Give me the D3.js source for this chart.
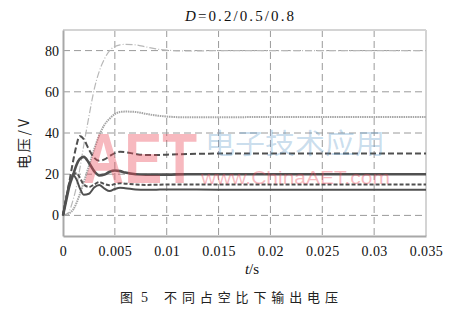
<!DOCTYPE html>
<html><head><meta charset="utf-8">
<script src="https://cdn.jsdelivr.net/npm/d3@7"></script>
<style>
html,body{margin:0;padding:0;background:#fff;}
svg{display:block;}
</style></head>
<body>
<svg id="chart" width="458" height="311"></svg>
<script>
// ---- data ----
const timeS = [0, 0.0003, 0.0006, 0.001, 0.0013, 0.0016, 0.002, 0.0025, 0.003, 0.0035, 0.004, 0.0045, 0.005, 0.0055, 0.006, 0.007, 0.008, 0.009, 0.01, 0.012, 0.015, 0.02, 0.025, 0.03, 0.035];
const v80 = [0, 0.5, 2, 8, 14, 22, 34, 48, 61, 70, 76, 80, 82, 82.8, 83, 82.8, 81.8, 80.8, 80.2, 79.8, 80, 80, 80, 80, 80];
const v48 = [0, 0.3, 1, 3, 6, 10, 16, 24, 32, 39, 44, 47, 49.2, 50.2, 50.4, 50.2, 49.3, 48.5, 48, 47.6, 47.6, 47.8, 47.8, 47.8, 47.8];
const v30 = [0, 8, 16, 27, 34, 38.5, 37, 32, 28, 26.5, 27.2, 28.8, 30.2, 30.9, 30.7, 29.8, 29.3, 29.3, 29.5, 29.8, 30, 30, 30, 30, 30];
const v20 = [0, 7, 14, 20, 24.5, 27.3, 28.4, 25.5, 21.5, 19.4, 19.8, 21.2, 21.8, 21.5, 20.8, 20, 19.8, 19.8, 19.8, 20, 20, 20, 20, 20, 20];
const v15 = [0, 8, 15, 20, 20.5, 18.5, 15, 13.8, 15, 16.2, 15.2, 14.6, 15.2, 15.6, 15.4, 15, 14.8, 14.9, 15, 15, 15, 15, 15, 15, 15];
const v12 = [0, 8, 15.5, 19.5, 17.5, 13.5, 10, 10.5, 13.5, 14.8, 13, 11.8, 12.8, 13.4, 13.2, 12.6, 12.4, 12.5, 12.6, 12.6, 12.5, 12.5, 12.5, 12.5, 12.5];
const xTicks = [0, 0.005, 0.01, 0.015, 0.02, 0.025, 0.03, 0.035];
const xTickLabels = ["0", "0.005", "0.01", "0.015", "0.02", "0.025", "0.03", "0.035"];
const yTicks = [0, 20, 40, 60, 80];
const titleMain = "=0.2/0.5/0.8";
const titleVar = "D";
const yLabel = "电压/V";
const caption = ["图", "5", "不同占空比下输出电压"];

// ---- layout ----
const svg = d3.select("#chart");
const L = 63, R = 426, T = 30, B = 236;
const x = d3.scaleLinear().domain([0, 0.035]).range([L, R]);
const y = d3.scaleLinear().domain([-10, 90]).range([B, T]);
const serif = "'Liberation Serif', 'Times New Roman', serif";
const cjk = "'Noto Sans CJK SC', sans-serif";

// grid
const g = svg.append("g");
g.selectAll("line.hg").data(yTicks).join("line")
  .attr("x1", L).attr("x2", R).attr("y1", d => y(d)).attr("y2", d => y(d))
  .attr("stroke", "#9a9a9a").attr("stroke-width", 1).attr("stroke-dasharray", "7,4");
g.selectAll("line.vg").data(xTicks.slice(1, -1)).join("line")
  .attr("x1", d => x(d)).attr("x2", d => x(d)).attr("y1", T).attr("y2", B)
  .attr("stroke", "#9a9a9a").attr("stroke-width", 1).attr("stroke-dasharray", "7,4");

// frame
svg.append("line").attr("x1", L).attr("x2", R).attr("y1", T).attr("y2", T).attr("stroke", "#d4d4d4").attr("stroke-width", 2);
svg.append("line").attr("x1", R).attr("x2", R).attr("y1", T).attr("y2", B).attr("stroke", "#d4d4d4").attr("stroke-width", 2);

// axes
const xAxis = d3.axisBottom(x).tickValues(xTicks).tickFormat((d, i) => xTickLabels[i]).tickSize(0).tickPadding(10);
const yAxis = d3.axisLeft(y).tickValues(yTicks).tickSize(0).tickPadding(4);
const gx = svg.append("g").attr("transform", `translate(0,${B})`).call(xAxis);
const gy = svg.append("g").attr("transform", `translate(${L},0)`).call(yAxis);
[gx, gy].forEach(a => {
  a.select(".domain").attr("stroke", "#a8a8a8").attr("stroke-width", 2);
  a.selectAll("text").attr("font-family", serif).attr("font-size", 14).attr("fill", "#111");
});
gx.selectAll("text").attr("letter-spacing", 0.4);

// series
const line = d3.line().x((d, i) => x(timeS[i])).y(d => y(d)).curve(d3.curveMonotoneX);
const series = [
  {v: v80, color: "#b8b8b8", w: 1.2, dash: "7,2,1,2"},
  {v: v48, color: "#a6a6a6", w: 2, dash: "1.5,0.8"},
  {v: v30, color: "#505050", w: 2, dash: "6,3"},
  {v: v20, color: "#505050", w: 2.6, dash: null},
  {v: v15, color: "#505050", w: 2, dash: "4,2"},
  {v: v12, color: "#505050", w: 2, dash: null}
];
svg.append("g").selectAll("path").data(series).join("path")
  .attr("d", d => line(d.v))
  .attr("fill", "none").attr("stroke", d => d.color).attr("stroke-width", d => d.w)
  .attr("stroke-dasharray", d => d.dash);

// watermark
const wm = svg.append("g").attr("pointer-events", "none");
wm.append("text").attr("transform", "translate(83,183) scale(1,1.22)")
  .attr("font-family", "'Liberation Sans', Arial, sans-serif")
  .attr("font-size", 57).attr("font-weight", 700)
  .attr("fill", "#eb4656").attr("fill-opacity", 0.38).text("AET");
wm.append("text").attr("x", 205).attr("y", 154).attr("font-family", cjk).attr("font-weight", 400)
  .attr("font-size", 28).attr("textLength", 180).attr("lengthAdjust", "spacingAndGlyphs")
  .attr("fill", "#5b97c8").attr("fill-opacity", 0.32).text("电子技术应用");
wm.append("text").attr("x", 201).attr("y", 184).attr("font-family", "'Liberation Sans', Arial, sans-serif")
  .attr("font-size", 19).attr("textLength", 189).attr("lengthAdjust", "spacingAndGlyphs")
  .attr("fill", "#eb4656").attr("fill-opacity", 0.38).text("www.ChinaAET.com");

// title
const tt = svg.append("text").attr("x", 185).attr("y", 21).attr("font-family", serif).attr("font-size", 15)
  .attr("fill", "#111").attr("textLength", 109).attr("lengthAdjust", "spacing");
tt.append("tspan").attr("font-style", "italic").text(titleVar);
tt.append("tspan").text(titleMain);

// y label
svg.append("text").attr("transform", "translate(29,144) rotate(-90)").attr("text-anchor", "middle")
  .attr("font-family", cjk).attr("font-size", 14).attr("fill", "#222")
  .attr("textLength", 50).attr("lengthAdjust", "spacing").text(yLabel);

// x label
const xl = svg.append("text").attr("x", 252).attr("y", 274).attr("text-anchor", "middle")
  .attr("font-family", serif).attr("font-size", 15).attr("fill", "#111");
xl.append("tspan").attr("font-style", "italic").text("t");
xl.append("tspan").text("/s");

// caption
svg.append("text").attr("x", 120).attr("y", 302).attr("font-family", cjk).attr("font-size", 13).attr("fill", "#222").text(caption[0]);
svg.append("text").attr("x", 141).attr("y", 302).attr("font-family", serif).attr("font-size", 14).attr("fill", "#222").text(caption[1]);
svg.append("text").attr("x", 164).attr("y", 302).attr("font-family", cjk).attr("font-size", 13).attr("fill", "#222")
  .attr("textLength", 174).attr("lengthAdjust", "spacing").text(caption[2]);
</script>
</body></html>
